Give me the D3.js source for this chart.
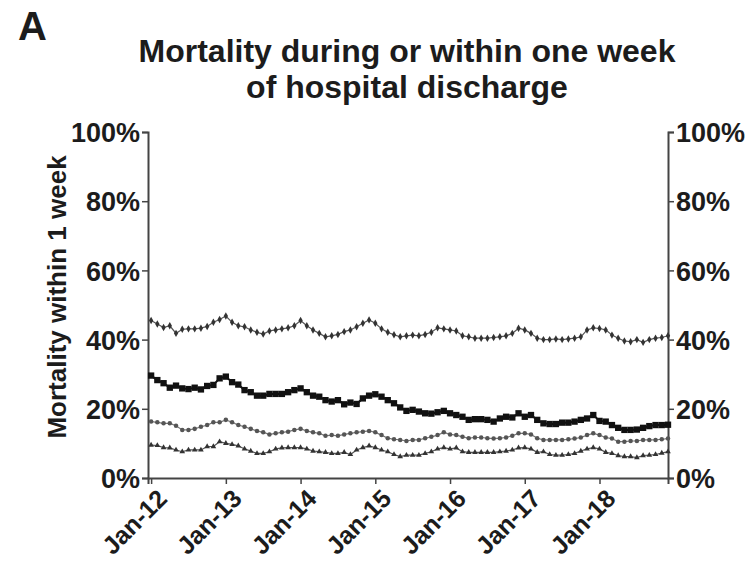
<!DOCTYPE html>
<html><head><meta charset="utf-8">
<script src="https://cdn.jsdelivr.net/npm/d3@7"></script>
<style>
body{margin:0;background:#fff;}
svg text{font-family:"Liberation Sans",Arial,sans-serif;font-weight:bold;fill:#1c1c1c;}
</style></head>
<body><svg id="c" width="747" height="565"></svg>
<script>
const tickLabels = ["Jan-12","Jan-13","Jan-14","Jan-15","Jan-16","Jan-17","Jan-18"];
const yTicks = [0,0.2,0.4,0.6,0.8,1.0];
// monthly values Jan 2012 - Dec 2018 (percent)
const seriesTop = [45.5,44.5,43.5,44.0,41.8,43.0,43.1,43.1,43.3,43.8,45.0,45.8,
 46.8,45.0,44.0,43.7,42.8,42.1,41.6,42.5,42.8,43.1,43.4,44.0,
 45.5,44.0,42.8,41.8,40.8,41.1,41.5,42.3,42.8,43.7,44.7,45.7,
 44.7,43.1,42.1,41.4,40.8,41.1,41.3,41.1,41.5,42.1,43.4,43.1,
 42.8,42.5,41.1,40.8,40.4,40.4,40.4,40.6,40.8,41.1,41.8,43.3,
 42.8,41.8,40.4,40.0,40.0,40.2,40.0,40.2,40.4,40.8,42.8,43.4,
 43.2,42.8,41.3,40.4,39.6,39.4,40.0,39.2,40.0,40.4,40.6,41.1];
const seriesBlack = [29.6,28.3,27.4,26.1,26.7,25.9,25.7,26.1,25.6,26.6,26.9,28.8,
 29.3,27.7,27.0,25.4,24.8,23.8,23.8,24.3,24.3,24.3,24.8,25.4,
 25.9,24.8,23.8,23.5,22.5,22.1,22.5,21.3,21.8,21.4,23.0,23.8,
 24.2,23.5,22.5,21.6,20.4,19.4,19.7,19.2,18.7,18.6,19.0,19.4,
 18.7,18.2,17.7,16.8,17.0,17.0,16.8,16.3,17.2,17.7,17.5,18.7,
 17.7,18.2,16.8,15.8,15.6,15.6,16.0,16.0,16.3,16.8,17.2,18.2,
 16.5,16.3,15.3,14.5,13.9,13.9,14.0,14.5,15.0,15.3,15.3,15.4];
const seriesGray = [16.3,16.1,15.8,15.8,15.1,13.9,13.9,14.2,14.8,15.3,16.1,16.1,
 16.8,16.1,15.3,14.8,14.2,13.6,13.2,12.6,12.9,13.2,13.4,13.9,
 14.2,13.6,13.2,12.9,12.2,12.4,12.2,12.6,12.9,13.2,13.4,13.6,
 13.2,12.4,11.5,11.2,11.0,10.7,11.0,11.0,11.5,11.9,12.4,13.2,
 12.6,12.4,11.9,11.5,11.7,11.7,11.5,11.4,11.5,11.7,12.2,12.9,
 12.9,12.6,11.5,11.0,11.0,11.0,11.0,11.2,11.4,11.7,12.4,12.9,
 12.4,11.7,11.4,10.5,10.5,10.7,10.7,11.0,11.0,11.0,11.2,11.4];
const seriesLow = [9.5,9.4,8.8,8.7,8.1,7.6,8.1,8.1,8.1,9.1,9.1,10.5,
 10.0,9.7,9.3,8.4,7.8,7.1,7.1,7.6,8.4,8.7,8.8,8.8,
 8.8,8.4,7.8,7.6,7.4,7.1,7.1,7.4,6.8,8.1,8.8,9.3,
 8.8,8.1,7.6,6.8,6.2,6.6,6.6,6.6,7.1,7.6,8.4,8.8,
 8.4,8.7,7.6,7.4,7.4,7.4,7.4,7.4,7.6,7.8,8.1,8.7,
 8.8,8.4,7.4,7.6,6.8,6.6,6.6,6.8,7.1,7.8,8.4,8.8,
 8.4,7.4,7.1,6.5,6.2,6.2,5.9,6.5,6.6,6.8,7.2,7.6];

const svg = d3.select("#c");
const L=148, R=668, T=132, B=478;
const x = d3.scaleLinear().domain([-0.5, seriesTop.length-1]).range([L,R]);
const y = d3.scaleLinear().domain([0,1]).range([B,T]);

svg.append("text").attr("x",18).attr("y",40).attr("font-size",40).text("A");
svg.append("text").attr("x",407).attr("y",62).attr("text-anchor","middle").attr("font-size",32).text("Mortality during or within one week");
svg.append("text").attr("x",407).attr("y",98).attr("text-anchor","middle").attr("font-size",32).text("of hospital discharge");

const fmt = d3.format(".0%");
const gl = svg.append("g").attr("transform",`translate(${L},0)`)
  .call(d3.axisLeft(y).tickValues(yTicks).tickFormat(fmt).tickSize(6).tickPadding(2));
const gr = svg.append("g").attr("transform",`translate(${R},0)`)
  .call(d3.axisRight(y).tickValues(yTicks).tickFormat(fmt).tickSize(6).tickPadding(2));
const gb = svg.append("g").attr("transform",`translate(0,${B})`)
  .call(d3.axisBottom(x).tickValues(d3.range(0,84,12)).tickFormat((d,i)=>tickLabels[i]).tickSize(6).tickPadding(4));
[gl,gr,gb].forEach(g=>{
  g.select(".domain").attr("stroke","#444").attr("stroke-width",2);
  g.selectAll(".tick line").attr("stroke","#444").attr("stroke-width",1.5);
  g.selectAll("text").attr("font-size",27).attr("fill","#1c1c1c").attr("font-family","Liberation Sans, Arial, sans-serif").attr("font-weight","bold");
});
gl.selectAll("text").attr("dy","0.36em");
gr.selectAll("text").attr("dy","0.36em");
gb.selectAll("text").attr("font-size",25).attr("text-anchor","end").attr("dy",null)
  .attr("transform","translate(10,15) rotate(-45)");

svg.append("text").attr("transform",`translate(66,${(T+B)/2 - 8}) rotate(-90)`).attr("text-anchor","middle")
  .attr("font-size",26).text("Mortality within 1 week");

const line = d3.line().x((d,i)=>x(i)).y(d=>y(d/100));
function drawSeries(data, color, lw, shape, size, fill){
  svg.append("path").datum(data).attr("d",line).attr("fill","none").attr("stroke",color).attr("stroke-width",lw);
  svg.append("g").selectAll("path").data(data).join("path")
    .attr("transform",(d,i)=>`translate(${x(i)},${y(d/100)})`)
    .attr("d",d3.symbol().type(shape).size(size))
    .attr("fill",fill).attr("stroke","none");
}
drawSeries(seriesTop,"#555",1.2,d3.symbolDiamond,16,"#333");
drawSeries(seriesBlack,"#111",2,d3.symbolSquare,40,"#111");
drawSeries(seriesGray,"#777",1.2,d3.symbolCircle,16,"#555");
drawSeries(seriesLow,"#555",1.2,d3.symbolTriangle,14,"#333");
</script></body></html>
